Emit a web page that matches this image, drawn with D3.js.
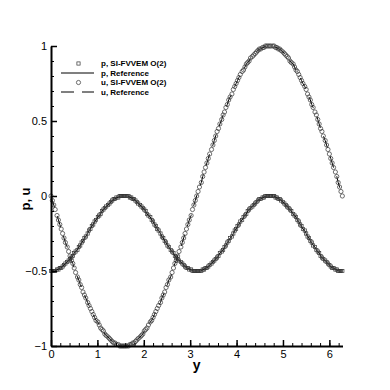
<!DOCTYPE html>
<html>
<head>
<meta charset="utf-8">
<script src="https://cdn.jsdelivr.net/npm/d3@7"></script>
<style>
  body { margin: 0; background: #fff; }
  svg { display: block; font-family: "Liberation Sans", Arial, sans-serif; }
  .axis text { font-size: 11px; fill: #000; }
  .axis path, .axis line { stroke: #000; }
  .legend text { font-size: 8px; font-weight: bold; }
</style>
</head>
<body>
<script>
//grid points along y
var yNodes = [
  0.00, 0.03, 0.06, 0.09, 0.13, 0.16, 0.19, 0.22, 0.25, 0.28,
  0.31, 0.35, 0.38, 0.41, 0.44, 0.47, 0.50, 0.53, 0.57, 0.60,
  0.63, 0.66, 0.69, 0.72, 0.75, 0.79, 0.82, 0.85, 0.88, 0.91,
  0.94, 0.97, 1.01, 1.04, 1.07, 1.10, 1.13, 1.16, 1.19, 1.23,
  1.26, 1.29, 1.32, 1.35, 1.38, 1.41, 1.45, 1.48, 1.51, 1.54,
  1.57, 1.60, 1.63, 1.67, 1.70, 1.73, 1.76, 1.79, 1.82, 1.85,
  1.88, 1.92, 1.95, 1.98, 2.01, 2.04, 2.07, 2.10, 2.14, 2.17,
  2.20, 2.23, 2.26, 2.29, 2.32, 2.36, 2.39, 2.42, 2.45, 2.48,
  2.51, 2.54, 2.58, 2.61, 2.64, 2.67, 2.70, 2.73, 2.76, 2.80,
  2.83, 2.86, 2.89, 2.92, 2.95, 2.98, 3.02, 3.05, 3.08, 3.11,
  3.14, 3.17, 3.20, 3.24, 3.27, 3.30, 3.33, 3.36, 3.39, 3.42,
  3.46, 3.49, 3.52, 3.55, 3.58, 3.61, 3.64, 3.68, 3.71, 3.74,
  3.77, 3.80, 3.83, 3.86, 3.90, 3.93, 3.96, 3.99, 4.02, 4.05,
  4.08, 4.12, 4.15, 4.18, 4.21, 4.24, 4.27, 4.30, 4.34, 4.37,
  4.40, 4.43, 4.46, 4.49, 4.52, 4.56, 4.59, 4.62, 4.65, 4.68,
  4.71, 4.74, 4.78, 4.81, 4.84, 4.87, 4.90, 4.93, 4.96, 5.00,
  5.03, 5.06, 5.09, 5.12, 5.15, 5.18, 5.22, 5.25, 5.28, 5.31,
  5.34, 5.37, 5.40, 5.43, 5.47, 5.50, 5.53, 5.56, 5.59, 5.62,
  5.65, 5.69, 5.72, 5.75, 5.78, 5.81, 5.84, 5.87, 5.91, 5.94,
  5.97, 6.00, 6.03, 6.06, 6.09, 6.13, 6.16, 6.19, 6.22, 6.25,
  6.28
];

//p values (SI-FVVEM O(2) and reference)
var pValues = [
  -0.50, -0.50, -0.50, -0.50, -0.49, -0.49, -0.48, -0.48, -0.47, -0.46,
  -0.45, -0.44, -0.43, -0.42, -0.41, -0.40, -0.38, -0.37, -0.36, -0.34,
  -0.33, -0.31, -0.30, -0.28, -0.27, -0.25, -0.23, -0.22, -0.20, -0.19,
  -0.17, -0.16, -0.14, -0.13, -0.12, -0.10, -0.09, -0.08, -0.07, -0.06,
  -0.05, -0.04, -0.03, -0.02, -0.02, -0.01, -0.01, 0.00, 0.00, 0.00,
  0.00, 0.00, 0.00, 0.00, -0.01, -0.01, -0.02, -0.02, -0.03, -0.04,
  -0.05, -0.06, -0.07, -0.08, -0.09, -0.10, -0.12, -0.13, -0.14, -0.16,
  -0.17, -0.19, -0.20, -0.22, -0.23, -0.25, -0.27, -0.28, -0.30, -0.31,
  -0.33, -0.34, -0.36, -0.37, -0.38, -0.40, -0.41, -0.42, -0.43, -0.44,
  -0.45, -0.46, -0.47, -0.48, -0.48, -0.49, -0.49, -0.50, -0.50, -0.50,
  -0.50, -0.50, -0.50, -0.50, -0.49, -0.49, -0.48, -0.48, -0.47, -0.46,
  -0.45, -0.44, -0.43, -0.42, -0.41, -0.40, -0.38, -0.37, -0.36, -0.34,
  -0.33, -0.31, -0.30, -0.28, -0.27, -0.25, -0.23, -0.22, -0.20, -0.19,
  -0.17, -0.16, -0.14, -0.13, -0.12, -0.10, -0.09, -0.08, -0.07, -0.06,
  -0.05, -0.04, -0.03, -0.02, -0.02, -0.01, -0.01, 0.00, 0.00, 0.00,
  0.00, 0.00, 0.00, 0.00, -0.01, -0.01, -0.02, -0.02, -0.03, -0.04,
  -0.05, -0.06, -0.07, -0.08, -0.09, -0.10, -0.12, -0.13, -0.14, -0.16,
  -0.17, -0.19, -0.20, -0.22, -0.23, -0.25, -0.27, -0.28, -0.30, -0.31,
  -0.33, -0.34, -0.36, -0.37, -0.38, -0.40, -0.41, -0.42, -0.43, -0.44,
  -0.45, -0.46, -0.47, -0.48, -0.48, -0.49, -0.49, -0.50, -0.50, -0.50,
  -0.50
];

//u values (SI-FVVEM O(2) and reference)
var uValues = [
  0.00, -0.03, -0.06, -0.09, -0.13, -0.16, -0.19, -0.22, -0.25, -0.28,
  -0.31, -0.34, -0.37, -0.40, -0.43, -0.45, -0.48, -0.51, -0.54, -0.56,
  -0.59, -0.61, -0.64, -0.66, -0.68, -0.71, -0.73, -0.75, -0.77, -0.79,
  -0.81, -0.83, -0.84, -0.86, -0.88, -0.89, -0.90, -0.92, -0.93, -0.94,
  -0.95, -0.96, -0.97, -0.98, -0.98, -0.99, -0.99, -1.00, -1.00, -1.00,
  -1.00, -1.00, -1.00, -1.00, -0.99, -0.99, -0.98, -0.98, -0.97, -0.96,
  -0.95, -0.94, -0.93, -0.92, -0.90, -0.89, -0.88, -0.86, -0.84, -0.83,
  -0.81, -0.79, -0.77, -0.75, -0.73, -0.71, -0.68, -0.66, -0.64, -0.61,
  -0.59, -0.56, -0.54, -0.51, -0.48, -0.45, -0.43, -0.40, -0.37, -0.34,
  -0.31, -0.28, -0.25, -0.22, -0.19, -0.16, -0.13, -0.09, -0.06, -0.03,
  0.00, 0.03, 0.06, 0.09, 0.13, 0.16, 0.19, 0.22, 0.25, 0.28,
  0.31, 0.34, 0.37, 0.40, 0.43, 0.45, 0.48, 0.51, 0.54, 0.56,
  0.59, 0.61, 0.64, 0.66, 0.68, 0.71, 0.73, 0.75, 0.77, 0.79,
  0.81, 0.83, 0.84, 0.86, 0.88, 0.89, 0.90, 0.92, 0.93, 0.94,
  0.95, 0.96, 0.97, 0.98, 0.98, 0.99, 0.99, 1.00, 1.00, 1.00,
  1.00, 1.00, 1.00, 1.00, 0.99, 0.99, 0.98, 0.98, 0.97, 0.96,
  0.95, 0.94, 0.93, 0.92, 0.90, 0.89, 0.88, 0.86, 0.84, 0.83,
  0.81, 0.79, 0.77, 0.75, 0.73, 0.71, 0.68, 0.66, 0.64, 0.61,
  0.59, 0.56, 0.54, 0.51, 0.48, 0.45, 0.43, 0.40, 0.37, 0.34,
  0.31, 0.28, 0.25, 0.22, 0.19, 0.16, 0.13, 0.09, 0.06, 0.03,
  0.00
];

var xTicks = [0, 1, 2, 3, 4, 5, 6];
var yTicks = [-1, -0.5, 0, 0.5, 1];
var legendLabels = ["p, SI-FVVEM O(2)", "p, Reference", "u, SI-FVVEM O(2)", "u, Reference"];

//chart frame
var width = 390, height = 390;
var margin = {left: 51, top: 46, right: 48, bottom: 44};

var svg = d3.select("body").append("svg")
  .attr("width", width)
  .attr("height", height);

svg.append("rect")
  .attr("width", width)
  .attr("height", height)
  .attr("fill", "#fff");

var x = d3.scaleLinear()
  .domain([0, 2 * Math.PI])
  .range([margin.left, width - margin.right + 0.5]);

var y = d3.scaleLinear()
  .domain([-1, 1])
  .range([height - margin.bottom, margin.top]);

var pts = yNodes.map(function(d, i){
  return {x: d, p: pValues[i], u: uValues[i]};
});

//reference lines
var lineP = d3.line().x(d => x(d.x)).y(d => y(d.p));
var lineU = d3.line().x(d => x(d.x)).y(d => y(d.u));

svg.append("path")
  .datum(pts)
  .attr("d", lineP)
  .attr("fill", "none")
  .attr("stroke", "#000")
  .attr("stroke-width", 1);

svg.append("path")
  .datum(pts)
  .attr("d", lineU)
  .attr("fill", "none")
  .attr("stroke", "#000")
  .attr("stroke-width", 1)
  .attr("stroke-dasharray", "12,9");

//square symbols for p
svg.append("g").selectAll("rect")
  .data(pts)
  .enter()
  .append("rect")
  .attr("x", d => x(d.x) - 1.6)
  .attr("y", d => y(d.p) - 1.6)
  .attr("width", 3.2)
  .attr("height", 3.2)
  .attr("fill", "none")
  .attr("stroke", "#333")
  .attr("stroke-width", 0.7);

//circle symbols for u
svg.append("g").selectAll("circle")
  .data(pts)
  .enter()
  .append("circle")
  .attr("cx", d => x(d.x))
  .attr("cy", d => y(d.u))
  .attr("r", 2.1)
  .attr("fill", "none")
  .attr("stroke", "#333")
  .attr("stroke-width", 0.7);

//axes
var xMinor = d3.range(0, 6.3, 0.2);
var yMinor = d3.range(-1, 1.01, 0.1);

svg.append("g")
  .attr("class", "axis")
  .attr("transform", "translate(0," + y(-1) + ")")
  .call(d3.axisBottom(x).tickValues(xMinor).tickSize(-3).tickSizeOuter(0).tickFormat(""))
  .call(g => g.select(".domain").remove());

svg.append("g")
  .attr("class", "axis")
  .attr("transform", "translate(" + x(0) + ",0)")
  .call(d3.axisLeft(y).tickValues(yMinor).tickSize(-3).tickSizeOuter(0).tickFormat(""))
  .call(g => g.select(".domain").remove());

var xAxis = svg.append("g")
  .attr("class", "axis")
  .attr("transform", "translate(0," + y(-1) + ")")
  .call(d3.axisBottom(x).tickValues(xTicks).tickSize(-6).tickSizeOuter(0).tickPadding(4).tickFormat(d3.format("d")));
xAxis.select(".domain").attr("stroke-width", 2);
xAxis.selectAll(".tick line").attr("stroke-width", 1.5);

var yAxis = svg.append("g")
  .attr("class", "axis")
  .attr("transform", "translate(" + x(0) + ",0)")
  .call(d3.axisLeft(y).tickValues(yTicks).tickSize(-6).tickSizeOuter(0).tickPadding(4).tickFormat(d => d3.format("")(d)));
yAxis.select(".domain").attr("stroke-width", 2);
yAxis.selectAll(".tick line").attr("stroke-width", 1.5);

//axis titles
svg.append("text")
  .attr("x", (x(0) + x(2 * Math.PI)) / 2)
  .attr("y", 370)
  .attr("text-anchor", "middle")
  .attr("font-size", 14)
  .attr("font-weight", "bold")
  .text("y");

svg.append("text")
  .attr("transform", "translate(30,199) rotate(-90)")
  .attr("text-anchor", "middle")
  .attr("font-size", 13)
  .attr("font-weight", "bold")
  .text("p, u");

//legend
var legend = svg.append("g").attr("class", "legend");
var rowY = [63.5, 73, 82.5, 92];

legend.append("rect")
  .attr("x", 78.5 - 1.6).attr("y", rowY[0] - 1.6)
  .attr("width", 3.2).attr("height", 3.2)
  .attr("fill", "none").attr("stroke", "#333").attr("stroke-width", 0.7);
legend.append("line")
  .attr("x1", 61).attr("x2", 94).attr("y1", rowY[1]).attr("y2", rowY[1])
  .attr("stroke", "#000");
legend.append("circle")
  .attr("cx", 78.5).attr("cy", rowY[2]).attr("r", 2.1)
  .attr("fill", "none").attr("stroke", "#333").attr("stroke-width", 0.7);
legend.append("line")
  .attr("x1", 61).attr("x2", 94).attr("y1", rowY[3]).attr("y2", rowY[3])
  .attr("stroke", "#000").attr("stroke-dasharray", "13,8");

legend.selectAll("text")
  .data(legendLabels)
  .enter()
  .append("text")
  .attr("x", 101)
  .attr("y", (d, i) => rowY[i] + 2.9)
  .text(d => d);
</script>
</body>
</html>
